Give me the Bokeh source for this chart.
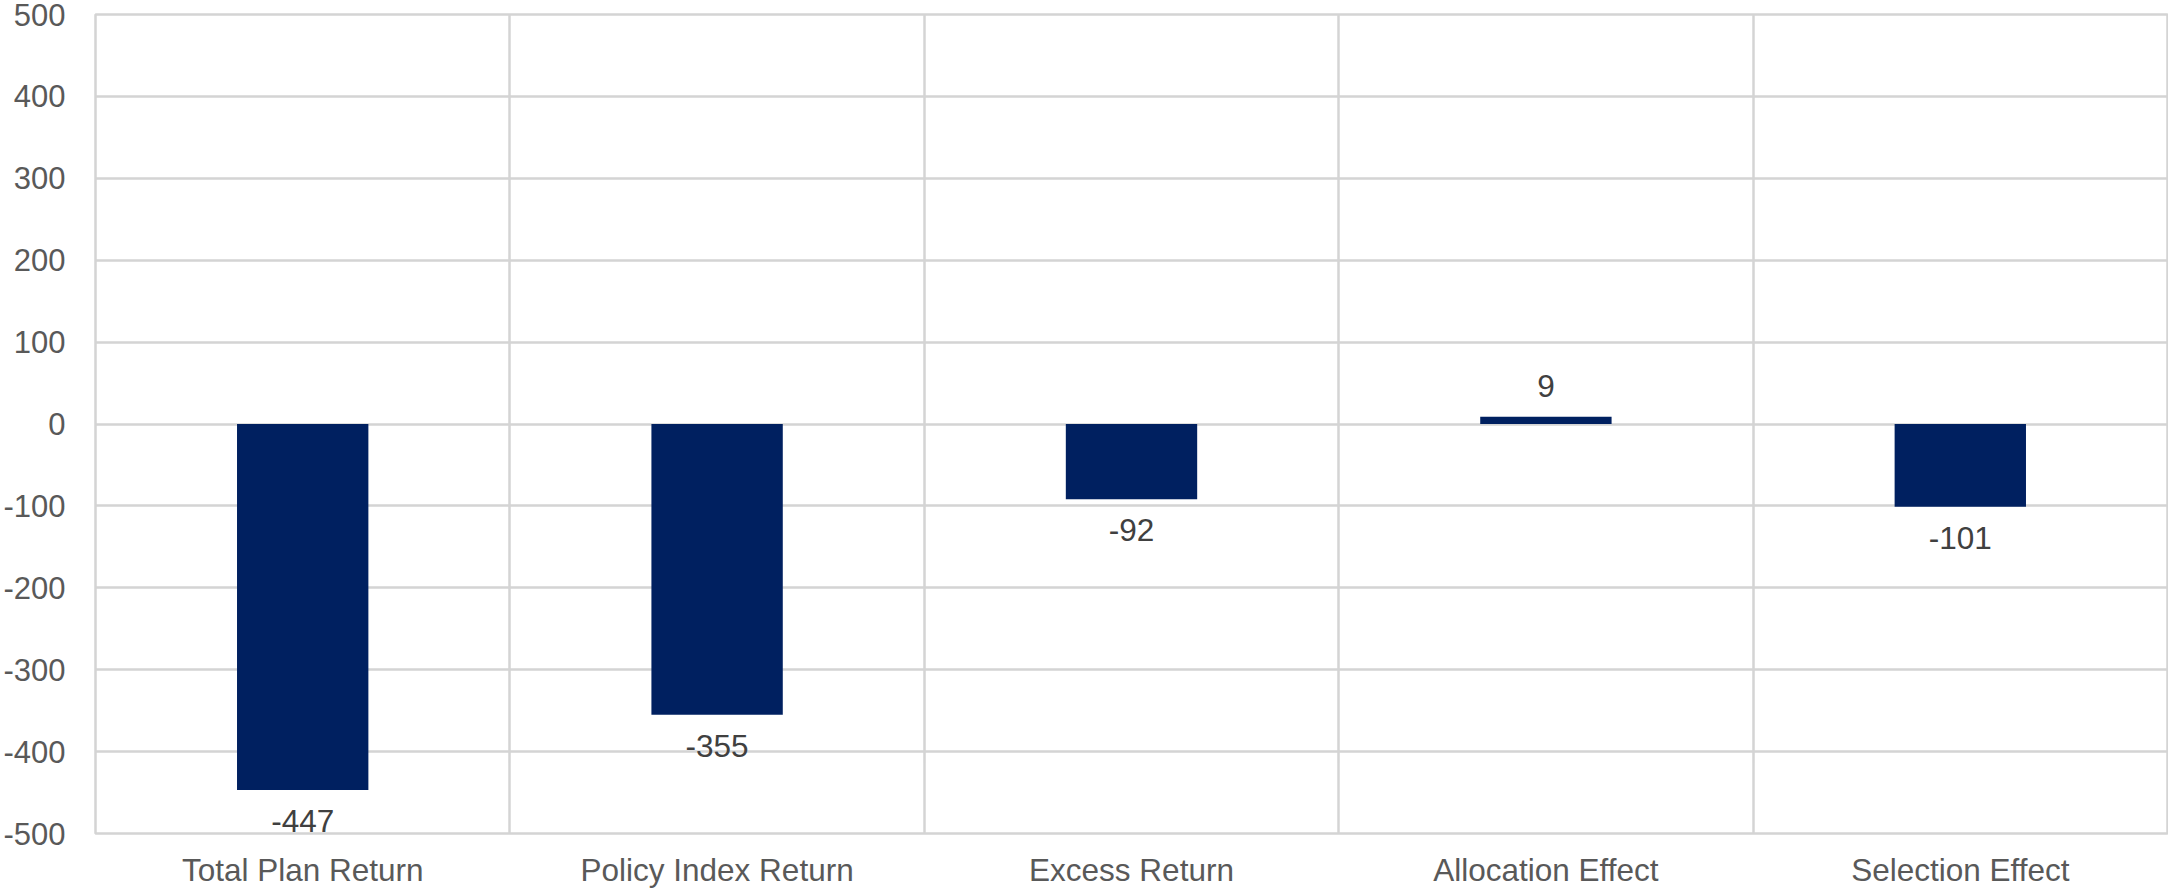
from bokeh.plotting import figure
from bokeh.models import ColumnDataSource, FixedTicker, LabelSet, Range1d
from bokeh.core.properties import value
from bokeh.embed import file_html
from bokeh.resources import INLINE

categories = ["Total Plan Return", "Policy Index Return", "Excess Return", "Allocation Effect", "Selection Effect"]
values = [-447, -355, -92, 9, -101]
y_ticks = [-500, -400, -300, -200, -100, 0, 100, 200, 300, 400, 500]

xs = [i + 0.5 for i in range(len(categories))]
neg = [v < 0 for v in values]
src_neg = ColumnDataSource(dict(x=[x for x, n in zip(xs, neg) if n],
                                top=[v for v, n in zip(values, neg) if n],
                                lab=[str(v) for v, n in zip(values, neg) if n]))
src_pos = ColumnDataSource(dict(x=[x for x, n in zip(xs, neg) if not n],
                                top=[v for v, n in zip(values, neg) if not n],
                                lab=[str(v) for v, n in zip(values, neg) if not n]))

FONT = "Liberation Sans"
p = figure(width=2168, height=890, output_backend="svg", toolbar_location=None,
           x_range=Range1d(0, len(categories)), y_range=Range1d(-500, 500),
           min_border_left=95, min_border_top=14, min_border_right=1, min_border_bottom=57)

p.vbar(x="x", top="top", bottom=0, width=0.317, source=src_neg, color="#002060", line_color=None)
p.vbar(x="x", top="top", bottom=0, width=0.317, source=src_pos, color="#002060", line_color=None)

p.add_layout(LabelSet(x="x", y="top", text="lab", source=src_neg, text_align="center",
                      text_baseline="top", y_offset=-20, text_font=value(FONT),
                      text_font_size="31.5px", text_color="#404040"))
p.add_layout(LabelSet(x="x", y="top", text="lab", source=src_pos, text_align="center",
                      text_baseline="bottom", y_offset=20, text_font=value(FONT),
                      text_font_size="31.5px", text_color="#404040"))

p.xaxis.ticker = FixedTicker(ticks=xs)
p.xaxis.major_label_overrides = {x: c for x, c in zip(xs, categories)}
p.yaxis.ticker = FixedTicker(ticks=y_ticks)
p.yaxis.major_label_overrides = {t: str(t) for t in y_ticks}

for ax in (p.xaxis[0], p.yaxis[0]):
    ax.axis_line_color = None
    ax.major_tick_line_color = None
    ax.minor_tick_line_color = None
    ax.major_label_text_font = FONT
    ax.major_label_text_color = "#595959"
p.xaxis.major_label_text_font_size = "31.5px"
p.yaxis.major_label_text_font_size = "31px"
p.yaxis.major_label_standoff = 24
p.xaxis.major_label_standoff = 12

p.xgrid.ticker = FixedTicker(ticks=list(range(len(categories) + 1)))
p.ygrid.ticker = FixedTicker(ticks=y_ticks)
for g in (p.xgrid[0], p.ygrid[0]):
    g.grid_line_color = "#d4d4d4"
    g.grid_line_width = 2.5
p.outline_line_color = "#d4d4d4"
p.outline_line_width = 2.5
p.background_fill_color = "white"
p.border_fill_color = "white"

open("out.html", "w").write(file_html(p, INLINE))
